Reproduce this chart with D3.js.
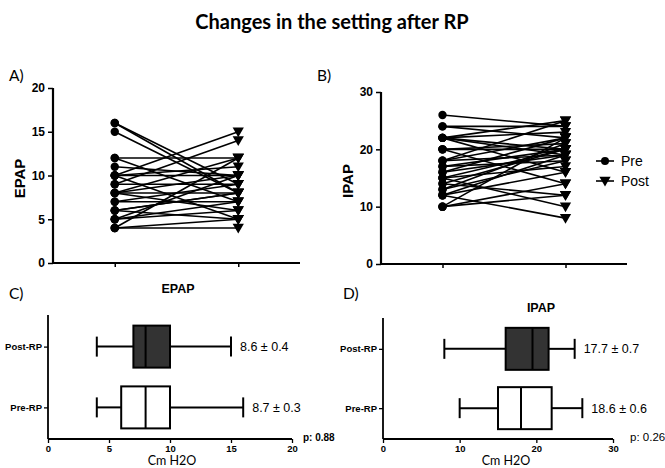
<!DOCTYPE html>
<html><head><meta charset="utf-8">
<script src="https://cdn.jsdelivr.net/npm/d3@7"></script>
<style>body{margin:0;background:#fff}svg{display:block}</style>
</head><body><svg id="c" width="665" height="468"></svg>
<script>
// ---------- data ----------
const timepoints = ["Pre", "Post"];
const epapPre  = [16,16,15,12,12,11,10,10,10,10,9,9,8,8,8,8,7,7,6,6,6,5,5,5,4,4,4];
const epapPost = [9,8,8,12,7,10,15,10,11,5,14,9,8,12,6,10,7,9,8,5,8,7,10,6,12,4,5];
const ipapPre  = [26,24,24,22,22,22,22,22,20,20,20,18,18,18,17,17,16,16,15,15,15,14,14,13,13,12,12,12,10,10,10];
const ipapPost = [24,24,22,25,23,20,19,16,20,21,14,22,25,19,20,18,22,19,17,20,10,20,12,18,21,16,8,19,14,12,22];
const epapTicks = [0,5,10,15,20];
const ipapTicks = [0,10,20,30];
const groups = ["Post-RP", "Pre-RP"];
// box stats: min, q1, median, q3, max (per group)
const epapMin = [4, 4], epapQ1 = [7, 6], epapMed = [8, 8], epapQ3 = [10, 10], epapMax = [15, 16];
const ipapMin = [8, 10], ipapQ1 = [16, 15], ipapMed = [19.5, 18], ipapQ3 = [21.6, 22], ipapMax = [25, 26];
const epapLabels = ["8.6 ± 0.4", "8.7 ± 0.3"];
const ipapLabels = ["17.7 ± 0.7", "18.6 ± 0.6"];
const boxFills = ["#333333", "#ffffff"];
const bxTicksC = [0,5,10,15,20];
const bxTicksD = [0,10,20,30];

const svg = d3.select("#c");
const SANS = "'Liberation Sans', Arial, sans-serif";
const CAL = "Lato, 'Open Sans', sans-serif";

svg.append("text").attr("x", 332).attr("y", 29).attr("text-anchor", "middle")
  .attr("font-family", CAL).attr("font-weight", "bold").attr("font-size", 20).text("Changes in the setting after RP");

function panelLabel(t, x, y) {
  svg.append("text").attr("x", x).attr("y", y).attr("font-family", CAL).attr("font-size", 15.5).text(t);
}
panelLabel("A)", 9, 81); panelLabel("B)", 317, 81); panelLabel("C)", 9, 299); panelLabel("D)", 343, 299);

const triPath = d3.symbol().type(d3.symbolTriangle).size(55)();

function pairPanel(pre, post, ticks, x0, x1, y0, y1, label, labelX) {
  const g = svg.append("g");
  const x = d3.scalePoint().domain(timepoints).range([x0, x1]).padding(0.5);
  const y = d3.scaleLinear().domain([0, ticks[ticks.length - 1]]).range([y0, y1]);
  const yAx = g.append("g").attr("transform", `translate(${x0},0)`)
    .call(d3.axisLeft(y).tickValues(ticks).tickSize(5).tickPadding(3));
  const xAx = g.append("g").attr("transform", `translate(0,${y0})`)
    .call(d3.axisBottom(x).tickSize(4).tickFormat(""));
  [yAx, xAx].forEach(a => {
    a.select(".domain").attr("stroke-width", 2.2);
    a.selectAll(".tick line").attr("stroke-width", 1.5);
    a.selectAll("text").attr("font-family", SANS).attr("font-weight", "bold").attr("font-size", 12).attr("fill", "#000");
  });
  yAx.select(".domain").attr("d", `M0,${y1}V${y0}`);
  xAx.select(".domain").attr("d", `M${x0},0H${x1}`);
  const pairs = pre.map((v, i) => [v, post[i]]);
  g.append("g").selectAll("line").data(pairs).join("line")
    .attr("x1", x("Pre")).attr("x2", x("Post"))
    .attr("y1", d => y(d[0])).attr("y2", d => y(d[1]))
    .attr("stroke", "#000").attr("stroke-width", 1.6);
  g.append("g").selectAll("circle").data(pre).join("circle")
    .attr("cx", x("Pre")).attr("cy", d => y(d)).attr("r", 4.2).attr("fill", "#000");
  g.append("g").selectAll("path").data(post).join("path")
    .attr("d", triPath).attr("fill", "#000")
    .attr("transform", d => `translate(${x("Post")},${y(d) - 1}) rotate(180)`);
  g.append("text").attr("transform", `translate(${labelX},${(y0 + y1) / 2 + 3}) rotate(-90)`)
    .attr("text-anchor", "middle").attr("font-family", SANS).attr("font-weight", "bold").attr("font-size", 15).text(label);
}
pairPanel(epapPre, epapPost, epapTicks, 53, 300, 263, 88, "EPAP", 25);
pairPanel(ipapPre, ipapPost, ipapTicks, 381, 627, 264, 92, "IPAP", 353);

// legend
const lg = svg.append("g");
[["Pre", 161], ["Post", 181]].forEach(([t, yy], i) => {
  lg.append("line").attr("x1", 596).attr("x2", 614).attr("y1", yy).attr("y2", yy).attr("stroke", "#000").attr("stroke-width", 1.6);
  if (i === 0) lg.append("circle").attr("cx", 605).attr("cy", yy).attr("r", 4).attr("fill", "#000");
  else lg.append("path").attr("d", triPath).attr("fill", "#000").attr("transform", `translate(605,${yy - 1}) rotate(180)`);
  lg.append("text").attr("x", 621).attr("y", yy + 5).attr("font-family", SANS).attr("font-size", 14).text(t);
});

function boxPanel(mins, q1s, meds, q3s, maxs, labels, ticks, x0, x1, yTop, yBot, title, titleX, titleY, pText, pX, pBold, xlabX) {
  const g = svg.append("g");
  const x = d3.scaleLinear().domain([0, ticks[ticks.length - 1]]).range([x0, x1]);
  const y = d3.scalePoint().domain(groups).range([yTop, yBot]).padding(0.52);
  const xAx = g.append("g").attr("transform", `translate(0,${yBot})`)
    .call(d3.axisBottom(x).tickValues(ticks).tickSize(4).tickPadding(2));
  const yAx = g.append("g").attr("transform", `translate(${x0},0)`)
    .call(d3.axisLeft(y).tickSize(4).tickPadding(2));
  [xAx, yAx].forEach(a => {
    a.select(".domain").attr("stroke-width", 1.8);
    a.selectAll(".tick line").attr("stroke-width", 1.3);
    a.selectAll("text").attr("font-family", SANS).attr("font-weight", "bold").attr("font-size", 9.5).attr("fill", "#000");
  });
  xAx.select(".domain").attr("d", `M${x0},0H${x1}`);
  yAx.select(".domain").attr("d", `M0,${yTop}V${yBot}`);
  const bh = 42;
  groups.forEach((gname, i) => {
    const cy = y(gname);
    const ln = (a, b, c, d) => g.append("line").attr("x1", a).attr("x2", b).attr("y1", c).attr("y2", d).attr("stroke", "#000").attr("stroke-width", 2);
    ln(x(mins[i]), x(q1s[i]), cy, cy);
    ln(x(q3s[i]), x(maxs[i]), cy, cy);
    ln(x(mins[i]), x(mins[i]), cy - 10, cy + 10);
    ln(x(maxs[i]), x(maxs[i]), cy - 10, cy + 10);
    g.append("rect").attr("x", x(q1s[i])).attr("y", cy - bh / 2).attr("width", x(q3s[i]) - x(q1s[i])).attr("height", bh)
      .attr("fill", boxFills[i]).attr("stroke", "#000").attr("stroke-width", 2);
    ln(x(meds[i]), x(meds[i]), cy - bh / 2, cy + bh / 2);
    g.append("text").attr("x", x(maxs[i]) + 9).attr("y", cy + 4.5).attr("font-family", SANS).attr("font-size", 12.5).text(labels[i]);
  });
  g.append("text").attr("x", titleX).attr("y", titleY).attr("text-anchor", "middle")
    .attr("font-family", SANS).attr("font-weight", "bold").attr("font-size", 12.5).text(title);
  g.append("text").attr("x", pX).attr("y", yBot + 2).attr("font-family", SANS)
    .attr("font-weight", pBold ? "bold" : "normal").attr("font-size", pBold ? 10 : 11.5).text(pText);
  g.append("text").attr("x", xlabX).attr("y", 465).attr("text-anchor", "middle")
    .attr("font-family", CAL).attr("font-size", 12.5).text("Cm H2O");
}
boxPanel(epapMin, epapQ1, epapMed, epapQ3, epapMax, epapLabels, bxTicksC, 48, 292, 315, 439, "EPAP", 178, 293, "p: 0.88", 303, true, 172);
boxPanel(ipapMin, ipapQ1, ipapMed, ipapQ3, ipapMax, ipapLabels, bxTicksD, 383, 613, 318, 439, "IPAP", 541, 312, "p: 0.26", 630, false, 506);
</script></body></html>
